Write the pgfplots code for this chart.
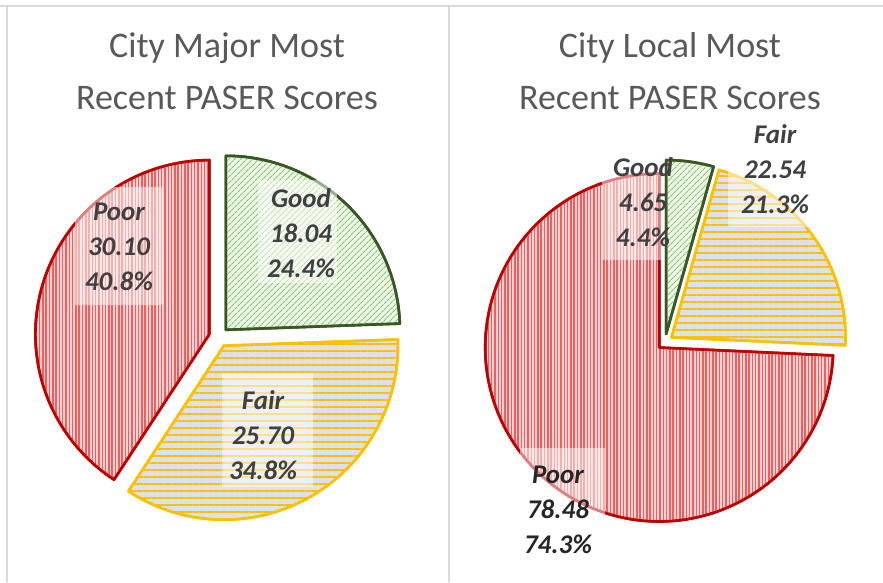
\documentclass[border=0pt]{standalone}
\usepackage{pgfplots}
\pgfplotsset{compat=1.18}
\usepackage{pgfplotstable}
\usepackage{fontspec}
\setmainfont{Carlito}
\usetikzlibrary{patterns,patterns.meta}

\definecolor{frame}{HTML}{D9D9D9}
\definecolor{titlegray}{HTML}{595959}
\definecolor{lblgray}{HTML}{404040}
\definecolor{poorborder}{HTML}{C00000}
\definecolor{poorbg}{HTML}{FFD3D3}
\definecolor{poorline}{HTML}{EE6060}
\definecolor{goodborder}{HTML}{385723}
\definecolor{goodbg}{HTML}{EEF6E8}
\definecolor{goodline}{HTML}{8CC477}
\definecolor{fairborder}{HTML}{FFC000}
\definecolor{fairbg}{HTML}{DCE1F0}
\definecolor{fairline}{HTML}{FFC000}

% values per slice, in the order Excel draws them (clockwise from 12 o'clock)
\pgfplotstableread{
cat value
Good 18.04
Fair 25.70
Poor 30.10
}\majortable
\pgfplotstableread{
cat value
Good 4.65
Fair 22.54
Poor 78.48
}\localtable

\tikzset{
  poorslice/.style={preaction={fill=poorbg}, pattern={Lines[angle=90,distance=3.3pt,line width=1.5pt]}, pattern color=poorline, draw=poorborder, line width=2.6pt, line join=round},
  goodslice/.style={preaction={fill=goodbg}, pattern={Lines[angle=45,distance=4pt,line width=1.2pt]}, pattern color=goodline, draw=goodborder, line width=2.6pt, line join=round},
  fairslice/.style={preaction={fill=fairbg}, pattern={Lines[angle=0,distance=7pt,line width=2.2pt]}, pattern color=fairline, draw=fairborder, line width=2.6pt, line join=round},
  lbl/.style={font=\fontsize{27}{35}\selectfont\bfseries\itshape, text=lblgray, align=center, inner sep=0pt},
  ttl/.style={font=\fontsize{36}{52}\selectfont, text=titlegray, align=center, inner sep=0pt},
  lblbox/.style={fill=white, opacity=0.5},
}

% total of a table -> \tot
\newcommand\pietotal[1]{%
  \pgfplotstablegetelem{0}{value}\of#1\pgfmathsetmacro\ta{\pgfplotsretval}%
  \pgfplotstablegetelem{1}{value}\of#1\pgfmathsetmacro\tb{\pgfplotsretval}%
  \pgfplotstablegetelem{2}{value}\of#1\pgfmathsetmacro\tc{\pgfplotsretval}%
  \pgfmathsetmacro\tmp{\ta+\tb+\tc}\xdef\tot{\tmp}\xdef\cum{0}}
% #1 table, #2 row, #3 style, #4 cx, #5 cy, #6 radius, #7 explosion
\newcommand\slice[7]{%
  \pgfplotstablegetelem{#2}{value}\of#1%
  \pgfmathsetmacro\v{\pgfplotsretval}%
  \pgfmathsetmacro\aA{90-\cum/\tot*360}%
  \pgfmathsetmacro\aB{\aA-\v/\tot*360}%
  \pgfmathsetmacro\am{(\aA+\aB)/2}%
  \pgfmathsetmacro\ox{#4+#7*cos(\am)}%
  \pgfmathsetmacro\oy{#5+#7*sin(\am)}%
  \pgfmathsetmacro\tmp{\cum+\v}\xdef\cum{\tmp}%
  \edef\doit{\noexpand\addplot[#3,domain=\aB:\aA,samples=120]
    ({\ox+#6*cos(x)},{\oy+#6*sin(x)}) -- (axis cs:\ox,\oy) -- cycle;}%
  \doit}

\begin{document}
\begin{tikzpicture}
\begin{axis}[
  width=883pt, height=582pt, scale only axis,
  xmin=0, xmax=883, ymin=0, ymax=582,
  hide axis, clip=false, no markers,
]
% chart frames
\draw[frame, line width=2pt] (axis cs:0,576) -- (axis cs:883,576);
\draw[frame, line width=2pt] (axis cs:7,576) -- (axis cs:7,0);
\draw[frame, line width=2pt] (axis cs:449,576) -- (axis cs:449,0);

% left pie
\pietotal{\majortable}
\slice{\majortable}{0}{goodslice}{219}{245}{174}{10}
\slice{\majortable}{1}{fairslice}{219}{245}{174}{10}
\slice{\majortable}{2}{poorslice}{219}{245}{174}{10}

% right pie
\pietotal{\localtable}
\slice{\localtable}{0}{goodslice}{665}{240}{174}{8}
\slice{\localtable}{1}{fairslice}{665}{240}{174}{8}
\slice{\localtable}{2}{poorslice}{665}{240}{174}{8}

% label boxes
\fill[lblbox] (axis cs:75,277) rectangle (axis cs:163,395);
\fill[lblbox] (axis cs:258,299) rectangle (axis cs:337,402);
\fill[lblbox] (axis cs:222,95) rectangle (axis cs:313,209);
\fill[lblbox] (axis cs:602,322) rectangle (axis cs:662,432);
\fill[lblbox] (axis cs:728,355) rectangle (axis cs:813,460);
\fill[lblbox] (axis cs:520,0) rectangle (axis cs:605,134);

% titles
\node[ttl] at (axis cs:227,511) {City Major Most\\Recent PASER Scores};
\node[ttl] at (axis cs:670,511) {City Local Most\\Recent PASER Scores};

% data labels
\node[lbl] at (axis cs:119,335) {Poor\\30.10\\40.8\%};
\node[lbl] at (axis cs:301,349) {Good\\18.04\\24.4\%};
\node[lbl] at (axis cs:263,147) {Fair\\25.70\\34.8\%};
\node[lbl] at (axis cs:643,380) {Good\\4.65\\4.4\%};
\node[lbl] at (axis cs:775,413) {Fair\\22.54\\21.3\%};
\node[lbl, text=black!85] at (axis cs:558,72) {Poor\\78.48\\74.3\%};
\end{axis}
\pgfresetboundingbox
\path (0,0) rectangle (883pt,582pt);
\end{tikzpicture}
\end{document}
